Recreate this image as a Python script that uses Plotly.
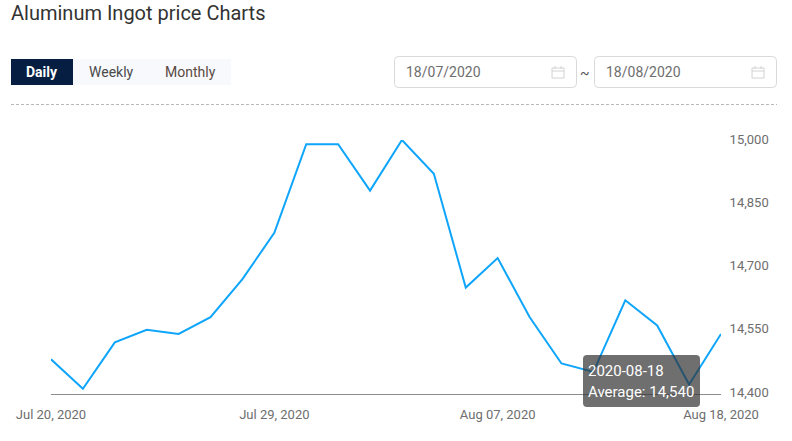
import plotly.graph_objects as go

dates = ["2020-07-20", "2020-07-21", "2020-07-22", "2020-07-23", "2020-07-24",
         "2020-07-27", "2020-07-28", "2020-07-29", "2020-07-30", "2020-07-31",
         "2020-08-03", "2020-08-04", "2020-08-05", "2020-08-06", "2020-08-07",
         "2020-08-10", "2020-08-11", "2020-08-12", "2020-08-13", "2020-08-14",
         "2020-08-17", "2020-08-18"]
average = [14480, 14410, 14520, 14550, 14540, 14580, 14670, 14780, 14990, 14990,
           14880, 15000, 14920, 14650, 14720, 14580, 14470, 14450, 14620, 14560,
           14420, 14540]
x_tick_dates = ["2020-07-20", "2020-07-29", "2020-08-07", "2020-08-18"]
x_tick_labels = ["Jul 20, 2020", "Jul 29, 2020", "Aug 07, 2020", "Aug 18, 2020"]
y_ticks = [14400, 14550, 14700, 14850, 15000]
y_tick_labels = ["14,400", "14,550", "14,700", "14,850", "15,000"]

W, H = 792, 441
LEFT, RIGHT, TOP, BOTTOM = 51, 721, 140, 393
FONT = "Roboto"


# Page furniture is laid out in pixels; convert to the plot's paper coordinates.
def px(x):
    return (x - LEFT) / (RIGHT - LEFT)


def py(y):
    return (BOTTOM - y) / (BOTTOM - TOP)


def rect(x0, y0, x1, y1, fill, line="rgba(0,0,0,0)"):
    return dict(type="rect", xref="paper", yref="paper", x0=px(x0), x1=px(x1),
                y0=py(y1), y1=py(y0), fillcolor=fill, line=dict(color=line, width=1),
                layer="above")


def rounded(x0, y0, x1, y1, r, fill, line="rgba(0,0,0,0)"):
    X0, X1, Y0, Y1 = px(x0), px(x1), py(y0), py(y1)
    rx, ry = r / (RIGHT - LEFT), r / (BOTTOM - TOP)
    path = (f"M {X0+rx} {Y0} L {X1-rx} {Y0} Q {X1} {Y0} {X1} {Y0-ry} "
            f"L {X1} {Y1+ry} Q {X1} {Y1} {X1-rx} {Y1} "
            f"L {X0+rx} {Y1} Q {X0} {Y1} {X0} {Y1+ry} "
            f"L {X0} {Y0-ry} Q {X0} {Y0} {X0+rx} {Y0} Z")
    return dict(type="path", xref="paper", yref="paper", path=path, fillcolor=fill,
                line=dict(color=line, width=1), layer="above")


def hline(x0, x1, y, color, width=1, dash="solid"):
    return dict(type="line", xref="paper", yref="paper", x0=px(x0), x1=px(x1),
                y0=py(y), y1=py(y), line=dict(color=color, width=width, dash=dash),
                layer="above")


def vline(x, y0, y1, color):
    return dict(type="line", xref="paper", yref="paper", x0=px(x), x1=px(x),
                y0=py(y0), y1=py(y1), line=dict(color=color, width=1), layer="above")


def calendar(x, y):
    c = "#d2d2d2"
    return [rect(x, y + 2, x + 12, y + 12, "rgba(0,0,0,0)", c),
            hline(x, x + 12, y + 5, c),
            vline(x + 3, y, y + 3, c),
            vline(x + 9, y, y + 3, c)]


def label(x, y, text, size, color, anchor="left"):
    return dict(xref="paper", yref="paper", x=px(x), y=py(y), text=text, showarrow=False,
                xanchor=anchor, yanchor="middle", borderpad=0, borderwidth=0,
                font=dict(family=FONT, size=size, color=color))


shapes = [
    rect(73, 59, 231, 85, "#f7f9fc"),
    rect(11, 59, 73, 85, "#051e41"),
    rounded(394.5, 56.5, 576.5, 87.5, 4, "#ffffff", "#d9d9d9"),
    rounded(594.5, 56.5, 776.5, 87.5, 4, "#ffffff", "#d9d9d9"),
    hline(11, 777, 104.5, "#b8b8b8", 1, "3px,2px"),
    *calendar(552, 66),
    *calendar(752, 66),
    hline(LEFT, RIGHT, 394.5, "#8c8c8c"),
    rounded(583, 355, 700, 407, 4, "rgba(50,50,50,0.7)"),
]

annotations = [
    label(42, 72, "<b>Daily</b>", 14, "#ffffff", "center"),
    label(111, 72, "Weekly", 14, "#4a4a4a", "center"),
    label(190, 72, "Monthly", 14, "#5a4a42", "center"),
    label(406, 72, "18/07/2020", 14, "#6e6e6e"),
    label(606, 72, "18/08/2020", 14, "#6e6e6e"),
    label(585, 73, "~", 14, "#555555", "center"),
    label(588, 371, "2020-08-18", 15, "#ffffff"),
    label(588, 392, "Average: 14,540", 15, "#ffffff"),
]

fig = go.Figure(go.Scatter(
    x=dates, y=average, mode="lines",
    line=dict(color="#0ea5fb", width=2), hoverinfo="skip",
    cliponaxis=False,
))

fig.update_layout(
    width=W, height=H, autosize=False,
    margin=dict(l=LEFT, r=W - RIGHT, t=TOP, b=H - BOTTOM, pad=0),
    paper_bgcolor="#ffffff", plot_bgcolor="#ffffff",
    showlegend=False,
    title=dict(text="Aluminum Ingot price Charts", xref="container", yref="container",
               x=11 / W, y=1 - 13 / H, xanchor="left", yanchor="middle",
               font=dict(family=FONT, size=20, color="#333333")),
    xaxis=dict(type="category", categoryorder="array", categoryarray=dates,
               range=[0, len(dates) - 1], showgrid=False, zeroline=False, showline=False,
               tickmode="array", tickvals=x_tick_dates, ticktext=x_tick_labels,
               ticks="outside", ticklen=9, tickcolor="rgba(0,0,0,0)", tickangle=0,
               tickfont=dict(family=FONT, size=13, color="#6e6e6e")),
    yaxis=dict(side="right", range=[14400, 15000], showgrid=False, zeroline=False, showline=False,
               tickmode="array", tickvals=y_ticks, ticktext=y_tick_labels,
               ticks="outside", ticklen=5, tickcolor="rgba(0,0,0,0)", ticklabelshift=-1,
               tickfont=dict(family=FONT, size=13, color="#6e6e6e")),
    shapes=shapes, annotations=annotations,
)

fig.write_html("out.html", config=dict(displayModeBar=False))
